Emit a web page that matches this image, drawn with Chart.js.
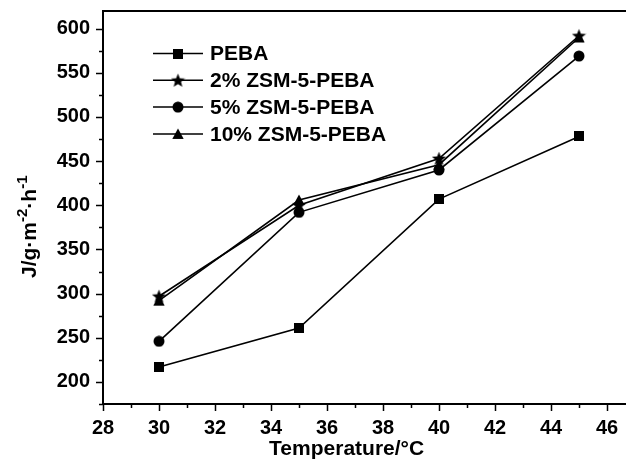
<!DOCTYPE html>
<html>
<head>
<meta charset="utf-8">
<script src="https://cdn.jsdelivr.net/npm/chart.js@4/dist/chart.umd.min.js"></script>
<style>
  html, body { margin: 0; padding: 0; background: #fff; overflow: hidden; width: 626px; height: 464px; }
  #wrap { position: relative; width: 680px; height: 464px; }
</style>
</head>
<body>
<div id="wrap"><canvas id="c" width="680" height="464"></canvas></div>
<script>
// Permeation flux vs. feed temperature
const temperatures = [30, 35, 40, 45];
const fluxPEBA   = [217, 261, 407, 478];
const flux2pct   = [297, 400, 453, 592];
const flux5pct   = [246, 392, 440, 569];
const flux10pct  = [292, 406, 446, 590];
const seriesNames = ['PEBA', '2% ZSM-5-PEBA', '5% ZSM-5-PEBA', '10% ZSM-5-PEBA'];
const xTickValues = [28, 30, 32, 34, 36, 38, 40, 42, 44, 46, 48];
const yTickValues = [200, 250, 300, 350, 400, 450, 500, 550, 600];

const FONT = '"Liberation Sans", Arial, Helvetica, sans-serif';

// Filled black marker glyphs
function marker(kind) {
  const s = kind === 'star' ? 15 : (kind === 'square' ? 10 : 12);
  const c = document.createElement('canvas');
  c.width = s; c.height = s;
  const g = c.getContext('2d');
  g.fillStyle = '#000';
  g.beginPath();
  if (kind === 'square') {
    g.rect(0, 0, s, s);
  } else if (kind === 'circle') {
    g.arc(s / 2, s / 2, s / 2 - 0.5, 0, Math.PI * 2);
  } else if (kind === 'triangle') {
    g.moveTo(s / 2, 0.5); g.lineTo(s - 0.3, s - 1); g.lineTo(0.3, s - 1); g.closePath();
  } else if (kind === 'star') {
    const cx = s / 2, cy = s / 2 + 0.6, ro = 7.4, ri = 3.2;
    for (let k = 0; k < 10; k++) {
      const r = k % 2 ? ri : ro;
      const a = -Math.PI / 2 + k * Math.PI / 5;
      const px = cx + r * Math.cos(a), py = cy + r * Math.sin(a);
      k ? g.lineTo(px, py) : g.moveTo(px, py);
    }
    g.closePath();
  }
  g.fill();
  return c;
}

const markers = [marker('square'), marker('star'), marker('circle'), marker('triangle')];
const seriesValues = [fluxPEBA, flux2pct, flux5pct, flux10pct];

const datasets = seriesValues.map((vals, i) => ({
  label: seriesNames[i],
  data: temperatures.map((t, j) => ({ x: t, y: vals[j] })),
  borderColor: '#000',
  backgroundColor: '#000',
  borderWidth: 1.6,
  pointStyle: markers[i],
  pointRadius: 6,
  tension: 0,
  fill: false
}));

// Frame, outward ticks, legend and axis titles
const decor = {
  id: 'decor',
  afterDatasetsDraw(chart) {
    const ctx = chart.ctx;
    const a = chart.chartArea;
    const xs = chart.scales.x, ys = chart.scales.y;
    ctx.save();
    ctx.strokeStyle = '#000';
    ctx.lineWidth = 2;
    ctx.strokeRect(a.left, a.top, a.right - a.left, a.bottom - a.top);

    ctx.lineWidth = 1.5;
    ctx.beginPath();
    for (let v = 175; v <= 620; v += 25) {
      const y = Math.round(ys.getPixelForValue(v)) + 0.5;
      const len = v % 50 === 0 ? 7 : 4;
      ctx.moveTo(a.left - len, y); ctx.lineTo(a.left, y);
    }
    for (let v = 28; v <= 48; v += 1) {
      const x = Math.round(xs.getPixelForValue(v)) + 0.5;
      const len = v % 2 === 0 ? 7 : 4;
      ctx.moveTo(x, a.bottom); ctx.lineTo(x, a.bottom + len);
    }
    ctx.stroke();

    // legend
    ctx.font = 'bold 21px ' + FONT;
    ctx.fillStyle = '#000';
    ctx.textBaseline = 'middle';
    ctx.textAlign = 'left';
    chart.data.datasets.forEach((ds, i) => {
      const y = 53.5 + i * 26.8;
      ctx.lineWidth = 1.5;
      ctx.beginPath();
      ctx.moveTo(153, y); ctx.lineTo(203, y);
      ctx.stroke();
      const m = ds.pointStyle;
      ctx.drawImage(m, 178 - m.width / 2, y - m.height / 2);
      ctx.fillText(ds.label, 210, y + 1);
    });

    // x axis title
    ctx.textBaseline = 'alphabetic';
    ctx.textAlign = 'center';
    ctx.font = 'bold 21px ' + FONT;
    ctx.fillText('Temperature/°C', xs.getPixelForValue(36.7), 455);

    // y axis title with superscripts
    ctx.translate(36, 278);
    ctx.rotate(-Math.PI / 2);
    ctx.textAlign = 'left';
    const big = 'bold 21px ' + FONT, small = 'bold 15px ' + FONT;
    const parts = [['J/g·m', big, 0], ['-2', small, -9], ['·h', big, 0], ['-1', small, -9]];
    let x = 0;
    parts.forEach(([t, f, dy]) => {
      ctx.font = f;
      ctx.fillText(t, x, dy);
      x += ctx.measureText(t).width;
    });
    ctx.restore();
  }
};

new Chart(document.getElementById('c'), {
  type: 'line',
  data: { datasets },
  options: {
    responsive: false,
    animation: false,
    devicePixelRatio: 1,
    layout: { padding: { top: 11, right: 17, left: 0, bottom: 0 } },
    plugins: { legend: { display: false }, tooltip: { enabled: false } },
    scales: {
      x: {
        type: 'linear', min: 28, max: 48,
        grid: { display: false, drawTicks: false }, border: { display: false },
        ticks: { color: '#000', padding: 12, font: { family: FONT, size: 20, weight: 'bold' } },
        afterBuildTicks: s => { s.ticks = xTickValues.map(v => ({ value: v })); },
        afterFit: s => { s.height = 60; s.paddingLeft = 0; s.paddingRight = 0; }
      },
      y: {
        type: 'linear', min: 175, max: 620,
        grid: { display: false, drawTicks: false }, border: { display: false },
        ticks: { color: '#000', padding: 13, font: { family: FONT, size: 20, weight: 'bold' } },
        afterBuildTicks: s => { s.ticks = yTickValues.map(v => ({ value: v })); },
        afterFit: s => { s.width = 103; s.paddingTop = 0; s.paddingBottom = 0; }
      }
    }
  },
  plugins: [decor]
});
</script>
</body>
</html>
